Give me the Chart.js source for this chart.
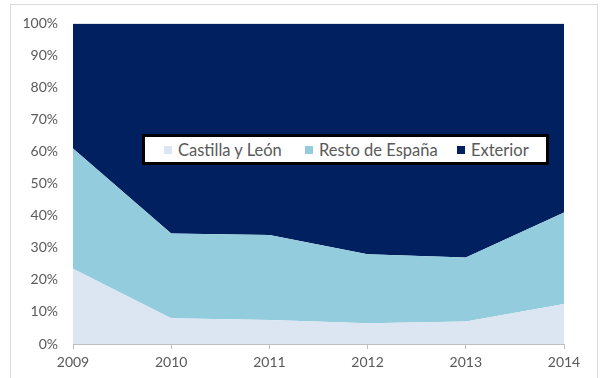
<!DOCTYPE html>
<html>
<head>
<meta charset="utf-8">
<script src="https://cdn.jsdelivr.net/npm/chart.js@4/dist/chart.umd.min.js"></script>
<style>
  body { margin: 0; background: #fff; }
  #wrap { position: relative; width: 600px; height: 378px; overflow: hidden; }
  #frame { position: absolute; left: 10px; top: 4px; width: 586px; height: 400px; border: 1px solid #d9d9d9; }
  #chart { position: absolute; left: 0; top: 0; }
  #legend {
    position: absolute; left: 142px; top: 134px; width: 401px; height: 25px;
    background: #fff; border: 3px solid #000;
    font-family: Lato, "Open Sans", sans-serif; font-size: 16.5px; color: #595959;
  }
  .item { display: flex; align-items: center; position: absolute; top: 0; height: 25px; }
  .box { width: 8px; height: 8px; margin-right: 6px; }
</style>
</head>
<body>
<div id="wrap">
  <div id="frame"></div>
  <canvas id="chart" width="600" height="378"></canvas>
  <div id="legend"></div>
</div>
<script>
// DATA
const years = ["2009", "2010", "2011", "2012", "2013", "2014"];
const castilla = [23.5, 8, 7.5, 6.5, 7, 12.5];
const resto = [37.5, 26.5, 26.5, 21.5, 20, 28.5];
const exterior = [39, 65.5, 66, 72, 73, 59];
const seriesNames = ["Castilla y León", "Resto de España", "Exterior"];
const seriesColors = ["#dce6f2", "#93cddd", "#002060"];
const yTicks = [0, 10, 20, 30, 40, 50, 60, 70, 80, 90, 100];

const legend = document.getElementById("legend");
const legendX = [19, 160, 312];
seriesNames.forEach((name, i) => {
    const item = document.createElement("div");
    item.className = "item";
    item.style.left = legendX[i] + "px";
    item.innerHTML = '<span class="box" style="background:' + seriesColors[i] + '"></span>' + name;
    legend.appendChild(item);
});

const series = [castilla, resto, exterior];
const tickFont = { family: "Lato", size: 14 };
new Chart(document.getElementById("chart"), {
    type: "line",
    data: {
        labels: years,
        datasets: series.map((d, i) => ({
            label: seriesNames[i],
            data: d,
            backgroundColor: seriesColors[i],
            borderWidth: 0,
            pointRadius: 0,
            tension: 0,
            fill: i === 0 ? "origin" : "-1"
        }))
    },
    options: {
        responsive: false,
        animation: false,
        layout: { padding: { left: 10, right: 36, top: 23, bottom: 0 } },
        plugins: { legend: { display: false }, tooltip: { enabled: false } },
        scales: {
            x: {
                offset: false,
                grid: { drawOnChartArea: false, tickLength: 5, color: "#bfbfbf" },
                border: { color: "#bfbfbf" },
                ticks: { color: "#595959", font: tickFont, padding: 5, maxRotation: 0 },
                afterFit: s => { s.height = 34; }
            },
            y: {
                stacked: true,
                min: 0, max: 100,
                afterBuildTicks: s => { s.ticks = yTicks.map(v => ({ value: v })); },
                grid: { display: false, drawTicks: false },
                border: { display: false },
                ticks: { color: "#595959", font: tickFont, padding: 15, callback: v => v + "%" },
                afterFit: s => { s.width = 63; }
            }
        }
    }
});
</script>
</body>
</html>
